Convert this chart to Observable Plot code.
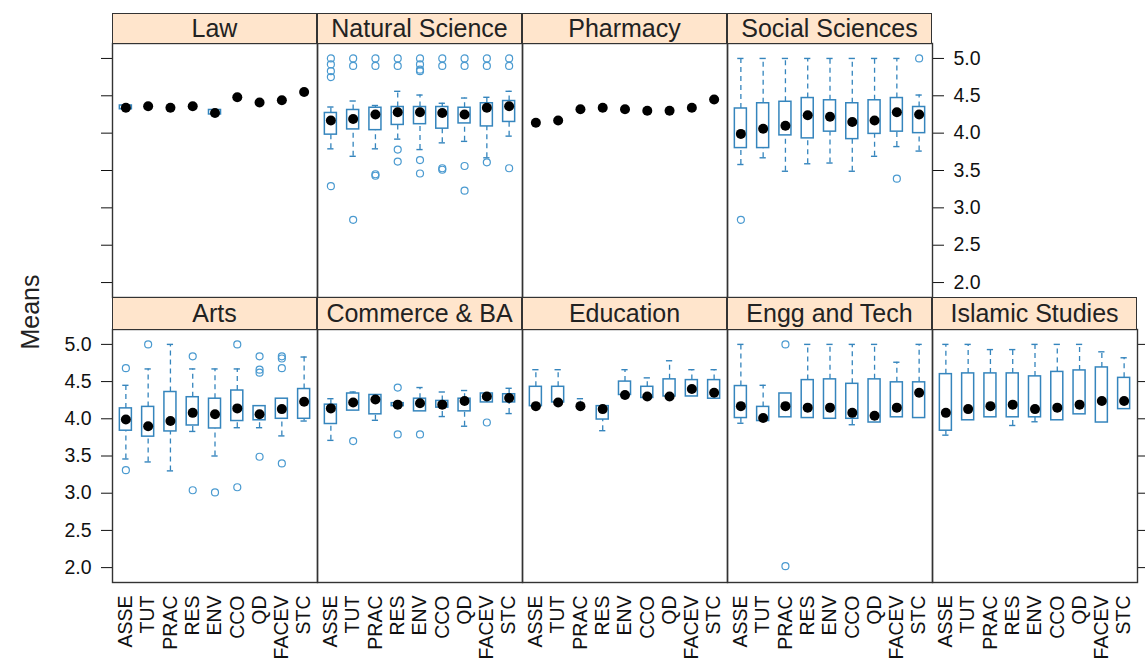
<!DOCTYPE html>
<html><head><meta charset="utf-8">
<script src="https://cdn.jsdelivr.net/npm/d3@7"></script>
<script src="https://cdn.jsdelivr.net/npm/@observablehq/plot@0.6"></script>
<style>
body{margin:0;background:#fff;font-family:"Liberation Sans",Arial,sans-serif;}
#chart{position:relative;width:1145px;height:665px;overflow:hidden;background:#fff;}
.strip{position:absolute;box-sizing:border-box;background:#ffe5cc;border:1.3px solid #333;text-align:center;font-size:25px;color:#222;white-space:nowrap;overflow:hidden;}
.panel{position:absolute;}
#ylab{position:absolute;left:30px;top:312px;font-size:25px;color:#222;transform:translate(-50%,-50%) rotate(-90deg);white-space:nowrap;}
</style></head><body><div id="chart"><div id="ylab">Means</div></div>
<script>
const items = ["ASSE","TUT","PRAC","RES","ENV","CCO","QD","FACEV","STC"];
const faculties = ["Law","Natural Science","Pharmacy","Social Sciences","Arts","Commerce & BA","Education","Engg and Tech","Islamic Studies"];
const yTicks = [2.0,2.5,3.0,3.5,4.0,4.5,5.0];

// per item: [lower whisker, lower hinge, median, upper hinge, upper whisker]
const lawStats = [[4.32,4.32,4.34,4.37,4.37],[4.36,4.36,4.36,4.36,4.36],[4.34,4.34,4.34,4.34,4.34],[4.36,4.36,4.36,4.36,4.36],[4.25,4.25,4.27,4.31,4.31],[4.48,4.48,4.48,4.48,4.48],[4.41,4.41,4.41,4.41,4.41],[4.44,4.44,4.44,4.44,4.44],[4.55,4.55,4.55,4.55,4.55]];
const natSciStats = [[3.79,3.98,4.17,4.27,4.35],[3.69,4.05,4.19,4.31,4.43],[3.79,4.04,4.25,4.34,4.37],[3.92,4.11,4.28,4.35,4.56],[3.78,4.12,4.28,4.35,4.51],[3.87,4.06,4.27,4.35,4.40],[3.89,4.13,4.25,4.34,4.47],[3.67,4.09,4.34,4.40,4.48],[3.96,4.15,4.36,4.43,4.56]];
const pharmacyStats = [[4.14,4.14,4.14,4.14,4.14],[4.17,4.17,4.17,4.17,4.17],[4.32,4.32,4.32,4.32,4.32],[4.34,4.34,4.34,4.34,4.34],[4.32,4.32,4.32,4.32,4.32],[4.30,4.30,4.30,4.30,4.30],[4.30,4.30,4.30,4.30,4.30],[4.34,4.34,4.34,4.34,4.34],[4.45,4.45,4.45,4.45,4.45]];
const socSciStats = [[3.58,3.80,3.99,4.33,5.0],[3.67,3.80,4.06,4.40,5.0],[3.49,3.97,4.10,4.42,5.0],[3.59,3.93,4.24,4.47,5.0],[3.60,4.02,4.22,4.44,5.0],[3.49,3.92,4.15,4.40,5.0],[3.69,3.99,4.17,4.44,5.0],[3.82,4.02,4.28,4.47,5.0],[3.76,4.00,4.25,4.35,4.51]];
const artsStats = [[3.46,3.84,3.99,4.14,4.45],[3.42,3.76,3.90,4.16,4.67],[3.30,3.83,3.97,4.36,5.0],[3.83,3.91,4.08,4.29,4.67],[3.50,3.87,4.06,4.27,4.67],[3.88,3.97,4.14,4.38,4.67],[3.88,3.98,4.06,4.17,4.17],[3.77,4.00,4.13,4.27,4.27],[3.97,4.00,4.23,4.40,4.83]];
const commerceStats = [[3.71,3.93,4.14,4.19,4.27],[4.11,4.11,4.22,4.34,4.36],[3.98,4.06,4.26,4.32,4.32],[4.17,4.17,4.19,4.21,4.21],[4.10,4.10,4.21,4.27,4.42],[4.03,4.15,4.19,4.24,4.36],[3.90,4.10,4.24,4.27,4.38],[4.22,4.22,4.30,4.34,4.34],[4.07,4.22,4.28,4.33,4.41]];
const educationStats = [[4.17,4.17,4.17,4.43,4.66],[4.22,4.22,4.22,4.43,4.66],[4.17,4.17,4.17,4.17,4.27],[3.84,3.99,4.13,4.17,4.17],[4.32,4.32,4.32,4.50,4.66],[4.28,4.28,4.30,4.43,4.55],[4.30,4.30,4.30,4.53,4.78],[4.30,4.30,4.40,4.52,4.66],[4.27,4.27,4.35,4.52,4.66]];
const enggStats = [[3.94,4.01,4.17,4.44,5.0],[3.97,3.97,4.01,4.16,4.45],[4.02,4.02,4.17,4.34,4.34],[4.01,4.01,4.15,4.52,5.0],[4.00,4.00,4.15,4.53,5.0],[3.92,4.00,4.08,4.47,5.0],[3.95,3.95,4.04,4.53,5.0],[4.02,4.02,4.15,4.49,4.76],[4.01,4.01,4.35,4.49,5.0]];
const islamicStats = [[3.78,3.84,4.08,4.60,5.0],[3.98,3.98,4.13,4.61,5.0],[4.02,4.02,4.17,4.61,4.93],[3.91,4.02,4.19,4.61,4.93],[3.96,4.02,4.13,4.57,5.0],[3.98,3.98,4.15,4.63,5.0],[4.06,4.06,4.19,4.65,5.0],[3.95,3.95,4.24,4.69,4.90],[4.13,4.13,4.24,4.55,4.82]];

// outliers: [item, value]
const lawOut = [];
const natSciOut = [["ASSE",5.0],["ASSE",4.92],["ASSE",4.83],["ASSE",4.75],["ASSE",3.29],["TUT",5.0],["TUT",4.9],["TUT",2.84],["PRAC",5.0],["PRAC",4.9],["PRAC",3.43],["PRAC",3.45],["RES",5.0],["RES",4.9],["RES",3.78],["RES",3.62],["ENV",5.0],["ENV",4.92],["ENV",4.85],["ENV",4.83],["ENV",3.64],["ENV",3.46],["CCO",5.0],["CCO",4.9],["CCO",3.51],["CCO",3.53],["QD",5.0],["QD",4.9],["QD",3.56],["QD",3.23],["FACEV",5.0],["FACEV",4.9],["FACEV",3.61],["STC",5.0],["STC",4.9],["STC",3.53]];
const pharmacyOut = [];
const socSciOut = [["ASSE",2.84],["FACEV",3.39],["STC",5.0]];
const artsOut = [["ASSE",4.68],["ASSE",3.31],["TUT",5.0],["RES",4.84],["RES",3.04],["ENV",3.01],["CCO",5.0],["CCO",3.08],["QD",4.84],["QD",4.66],["QD",4.62],["QD",3.49],["FACEV",4.84],["FACEV",4.81],["FACEV",4.68],["FACEV",3.40]];
const commerceOut = [["TUT",3.70],["RES",4.42],["RES",3.79],["ENV",3.79],["FACEV",3.95]];
const educationOut = [];
const enggOut = [["PRAC",5.0],["PRAC",2.02]];
const islamicOut = [];

const allStats = [lawStats,natSciStats,pharmacyStats,socSciStats,artsStats,commerceStats,educationStats,enggStats,islamicStats];
const allOut = [lawOut,natSciOut,pharmacyOut,socSciOut,artsOut,commerceOut,educationOut,enggOut,islamicOut];

// layout
const colLeft = [112,317,522,727,932];
const panelW = 205;
const rowTop = [43,329], rowH = [254,253], stripTop = [13,297];
const boxCol = "#3585bd", outCol = "#4a9ad0";
const chart = document.getElementById("chart");

faculties.forEach((name, f) => {
  const row = f < 4 ? 0 : 1;
  const col = f < 4 ? f : f - 4;
  const left = colLeft[col], top = rowTop[row], h = rowH[row];
  let yAxis = null, ml = 0, mr = 0, yFmt = d => d.toFixed(1);
  if (row === 0 && col === 0) { yAxis = "left"; ml = 20; yFmt = () => ""; }
  if (row === 0 && col === 3) { yAxis = "right"; mr = 70; }
  if (row === 1 && col === 0) { yAxis = "left"; ml = 70; }
  if (row === 1 && col === 4) { yAxis = "right"; mr = 14; yFmt = () => ""; }
  const mb = row === 1 ? 80 : 0;
  const data = allStats[f].map((s, k) => ({i: k + 1, lo: s[0], q1: s[1], med: s[2], q3: s[3], hi: s[4]}));
  const outs = allOut[f].map(([it, v]) => ({i: items.indexOf(it) + 1, v}));
  const svg = Plot.plot({
    width: ml + panelW + mr, height: h + mb,
    marginLeft: ml, marginRight: mr, marginTop: 0, marginBottom: mb,
    style: {background: "transparent", overflow: "visible", fontSize: "19.5px", fontFamily: "'Liberation Sans', Arial, sans-serif", color: "#111"},
    x: {type: "linear", domain: [0.4, 9.6], axis: row === 1 ? "bottom" : null, ticks: items.map((_, k) => k + 1), tickFormat: t => items[Math.round(t) - 1], tickRotate: -90, tickSize: 0, tickPadding: 13, label: null},
    y: {domain: [1.8, 5.2], axis: yAxis, ticks: yTicks, tickFormat: yFmt, tickSize: 11, tickPadding: 10, label: null},
    marks: [
      Plot.ruleX(data.filter(d => d.hi > d.q3), {x: "i", y1: "q3", y2: "hi", stroke: boxCol, strokeWidth: 1.3, strokeDasharray: "5,4"}),
      Plot.ruleX(data.filter(d => d.lo < d.q1), {x: "i", y1: "lo", y2: "q1", stroke: boxCol, strokeWidth: 1.3, strokeDasharray: "5,4"}),
      Plot.ruleY(data.filter(d => d.hi > d.q3), {y: "hi", x1: d => d.i - 0.14, x2: d => d.i + 0.14, stroke: boxCol, strokeWidth: 1.4}),
      Plot.ruleY(data.filter(d => d.lo < d.q1), {y: "lo", x1: d => d.i - 0.14, x2: d => d.i + 0.14, stroke: boxCol, strokeWidth: 1.4}),
      Plot.rect(data.filter(d => d.q3 - d.q1 > 0.001), {x1: d => d.i - 0.27, x2: d => d.i + 0.27, y1: "q1", y2: "q3", fill: "none", stroke: boxCol, strokeWidth: 1.5}),
      Plot.dot(outs, {x: "i", y: "v", r: 3.5, stroke: outCol, strokeWidth: 1.2, fill: "none"}),
      Plot.dot(data, {x: "i", y: "med", r: 5, fill: "#000", stroke: "none"}),
      Plot.frame({stroke: "#333", strokeWidth: 1.4})
    ]
  });
  svg.classList.add("panel");
  svg.style.left = (left - ml) + "px";
  svg.style.top = top + "px";
  svg.style.position = "absolute";
  chart.appendChild(svg);

  const strip = document.createElement("div");
  strip.className = "strip";
  strip.textContent = name;
  strip.style.left = left + "px";
  strip.style.top = stripTop[row] + "px";
  strip.style.width = panelW + "px";
  const sh = top - stripTop[row] + 1;
  strip.style.height = sh + "px";
  strip.style.lineHeight = (sh - 2) + "px";
  chart.appendChild(strip);
});
</script></body></html>
